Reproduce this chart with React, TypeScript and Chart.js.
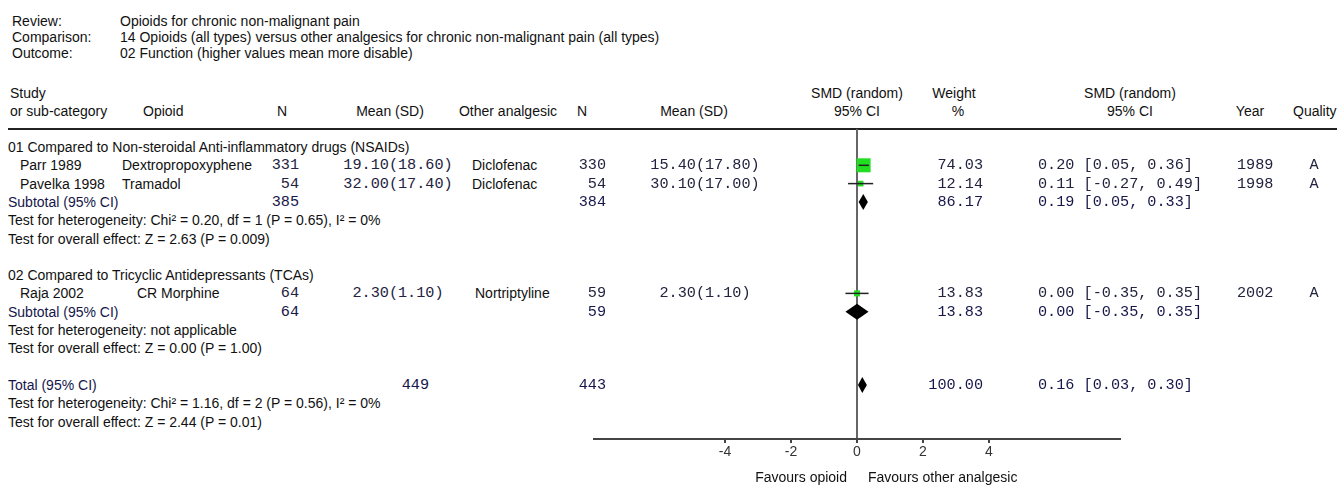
import React, { useEffect, useRef } from "react";
import { Chart, registerables } from "chart.js";

Chart.register(...registerables);

// ---------- data ----------
const META_LABELS = ["Review:", "Comparison:", "Outcome:"];
const META_VALUES = [
  "Opioids for chronic non-malignant pain",
  "14 Opioids (all types) versus other analgesics for chronic non-malignant pain (all types)",
  "02 Function (higher values mean more disable)",
];

const GROUP_TITLES = [
  "01 Compared to Non-steroidal Anti-inflammatory drugs (NSAIDs)",
  "02 Compared to Tricyclic Antidepressants (TCAs)",
];
const GROUP_ROWS = [0, 7];

const STUDIES = ["Parr 1989", "Pavelka 1998", "Raja 2002"];
const STUDY_ROWS = [1, 2, 8];
const OPIOIDS = ["Dextropropoxyphene", "Tramadol", "CR Morphine"];
const N_OPIOID = [331, 54, 64];
const MEAN_OPIOID = ["19.10(18.60)", "32.00(17.40)", "2.30(1.10)"];
const OTHER = ["Diclofenac", "Diclofenac", "Nortriptyline"];
const N_OTHER = [330, 54, 59];
const MEAN_OTHER = ["15.40(17.80)", "30.10(17.00)", "2.30(1.10)"];
const SMD = [0.2, 0.11, 0.0];
const CI_LO = [0.05, -0.27, -0.35];
const CI_HI = [0.36, 0.49, 0.35];
const WEIGHT = [74.03, 12.14, 13.83];
const YEAR = [1989, 1998, 2002];
const QUALITY = ["A", "A", "A"];

const SUB_ROWS = [3, 9];
const SUB_N_OPIOID = [385, 64];
const SUB_N_OTHER = [384, 59];
const SUB_SMD = [0.19, 0.0];
const SUB_LO = [0.05, -0.35];
const SUB_HI = [0.33, 0.35];
const SUB_WEIGHT = [86.17, 13.83];
const SUB_HET = [
  "Test for heterogeneity: Chi² = 0.20, df = 1 (P = 0.65), I² = 0%",
  "Test for heterogeneity: not applicable",
];
const SUB_EFFECT = [
  "Test for overall effect: Z = 2.63 (P = 0.009)",
  "Test for overall effect: Z = 0.00 (P = 1.00)",
];

const TOTAL_ROW = 13;
const TOTAL_N_OPIOID = 449;
const TOTAL_N_OTHER = 443;
const TOTAL_SMD = 0.16;
const TOTAL_LO = 0.03;
const TOTAL_HI = 0.3;
const TOTAL_WEIGHT = 100.0;
const TOTAL_HET = "Test for heterogeneity: Chi² = 1.16, df = 2 (P = 0.56), I² = 0%";
const TOTAL_EFFECT = "Test for overall effect: Z = 2.44 (P = 0.01)";

const AXIS_TICKS = [-4, -2, 0, 2, 4];
const X_MIN = -8;
const X_MAX = 8;
const FAVOURS_LEFT = "Favours opioid";
const FAVOURS_RIGHT = "Favours other analgesic";

// ---------- layout ----------
const ROW0 = 147;
const ROW_H = 18.3;
const rowY = (r: number) => ROW0 + ROW_H * r;

const PLOT_LEFT = 593;
const PLOT_TOP = 129;
const PLOT_W = 528;
const PLOT_H = 356;
const AXIS_H = 46;
const Y_MIN = -(ROW0 - PLOT_TOP) / ROW_H;
const Y_MAX = (PLOT_TOP + PLOT_H - AXIS_H - ROW0) / ROW_H;

const SANS = '"Liberation Sans", Arial, sans-serif';
const MONO = '"Liberation Mono", "Courier New", monospace';
const SANS_SIZE = 14;
const MONO_SIZE = 15.2;
const TEXT_COLOR = "#111";
const MONO_COLOR = "#23233f";
const SUB_COLOR = "#16164a";

type Align = "left" | "right" | "center";

function T(props: {
  x: number;
  y: number;
  text: string | number;
  align?: Align;
  mono?: boolean;
  color?: string;
}) {
  const { x, y, text, align = "left", mono = false, color } = props;
  const tx = align === "right" ? "translateX(-100%)" : align === "center" ? "translateX(-50%)" : "none";
  return (
    <div
      style={{
        position: "absolute",
        left: x,
        top: y - 9,
        height: 18,
        lineHeight: "18px",
        whiteSpace: "nowrap",
        transform: tx,
        fontFamily: mono ? MONO : SANS,
        fontSize: mono ? MONO_SIZE : SANS_SIZE,
        color: color ?? (mono ? MONO_COLOR : TEXT_COLOR),
      }}
    >
      {text}
    </div>
  );
}

const fmtCI = (e: number, lo: number, hi: number) =>
  `${e.toFixed(2)} [${lo.toFixed(2)}, ${hi.toFixed(2)}]`;

export default function App() {
  const canvasRef = useRef<HTMLCanvasElement | null>(null);

  useEffect(() => {
    const canvas = canvasRef.current;
    if (!canvas) return;

    const diamonds = [
      ...SUB_ROWS.map((r, i) => ({ row: r, est: SUB_SMD[i], lo: SUB_LO[i], hi: SUB_HI[i] })),
      { row: TOTAL_ROW, est: TOTAL_SMD, lo: TOTAL_LO, hi: TOTAL_HI },
    ];

    const diamondPlugin = {
      id: "diamonds",
      afterDatasetsDraw(chart: any) {
        const { ctx, scales } = chart;
        const x = scales.x;
        const y = scales.y;
        ctx.save();
        ctx.fillStyle = "#000";
        diamonds.forEach((d) => {
          const yc = y.getPixelForValue(d.row);
          ctx.beginPath();
          ctx.moveTo(x.getPixelForValue(d.lo), yc);
          ctx.lineTo(x.getPixelForValue(d.est), yc - 8);
          ctx.lineTo(x.getPixelForValue(d.hi), yc);
          ctx.lineTo(x.getPixelForValue(d.est), yc + 8);
          ctx.closePath();
          ctx.fill();
        });
        ctx.restore();
      },
    };

    const ciDatasets = STUDIES.map((s, i) => ({
      label: s + " CI",
      data: [
        { x: CI_LO[i], y: STUDY_ROWS[i] },
        { x: CI_HI[i], y: STUDY_ROWS[i] },
      ],
      showLine: true,
      borderColor: "#222",
      borderWidth: 1.5,
      pointRadius: 0,
      order: 0,
    }));

    const squares = {
      label: "Studies",
      data: STUDIES.map((_, i) => ({ x: SMD[i], y: STUDY_ROWS[i] })),
      pointStyle: "rect",
      pointRadius: WEIGHT.map((w) => (1.63 * Math.sqrt(w)) / Math.SQRT2),
      backgroundColor: "#22dd22",
      borderColor: "#22dd22",
      borderWidth: 0,
      order: 1,
    };

    const chart = new Chart(canvas, {
      type: "scatter",
      data: { datasets: [...ciDatasets, squares] as any },
      options: {
        animation: false,
        responsive: false,
        events: [],
        layout: { padding: 0, autoPadding: false },
        plugins: { legend: { display: false }, tooltip: { enabled: false } },
        scales: {
          x: {
            type: "linear",
            min: X_MIN,
            max: X_MAX,
            afterBuildTicks: (axis: any) => {
              axis.ticks = AXIS_TICKS.map((v) => ({ value: v }));
            },
            afterFit: (scale: any) => {
              scale.height = AXIS_H;
            },
            grid: {
              color: (c: any) => (c.tick && c.tick.value === 0 ? "#666" : "rgba(0,0,0,0)"),
              lineWidth: 2,
              tickColor: "#444",
              tickLength: 4,
              drawOnChartArea: true,
            },
            border: { display: true, color: "#444", width: 2 },
            ticks: {
              padding: 1,
              color: "#333",
              font: { family: SANS, size: 14 },
              callback: (v: any) => String(v),
              maxRotation: 0,
            },
          },
          y: {
            type: "linear",
            display: false,
            reverse: true,
            min: Y_MIN,
            max: Y_MAX,
          },
        },
      },
      plugins: [diamondPlugin],
    });

    return () => chart.destroy();
  }, []);

  const texts: React.ReactNode[] = [];
  let k = 0;
  const add = (p: Parameters<typeof T>[0]) => texts.push(<T key={k++} {...p} />);

  // meta
  META_LABELS.forEach((l, i) => {
    add({ x: 12, y: 21 + 16 * i, text: l });
    add({ x: 120, y: 21 + 16 * i, text: META_VALUES[i] });
  });

  // headers
  const H1 = 93;
  const H2 = 111;
  add({ x: 10, y: H1, text: "Study" });
  add({ x: 10, y: H2, text: "or sub-category" });
  add({ x: 143, y: H2, text: "Opioid" });
  add({ x: 282, y: H2, text: "N", align: "center" });
  add({ x: 390, y: H2, text: "Mean (SD)", align: "center" });
  add({ x: 508, y: H2, text: "Other analgesic", align: "center" });
  add({ x: 582, y: H2, text: "N", align: "center" });
  add({ x: 694, y: H2, text: "Mean (SD)", align: "center" });
  add({ x: 857, y: H1, text: "SMD (random)", align: "center" });
  add({ x: 857, y: H2, text: "95% CI", align: "center" });
  add({ x: 954, y: H1, text: "Weight", align: "center" });
  add({ x: 958, y: H2, text: "%", align: "center" });
  add({ x: 1130, y: H1, text: "SMD (random)", align: "center" });
  add({ x: 1130, y: H2, text: "95% CI", align: "center" });
  add({ x: 1250, y: H2, text: "Year", align: "center" });
  add({ x: 1293, y: H2, text: "Quality" });

  // groups
  GROUP_TITLES.forEach((g, gi) => {
    add({ x: 8, y: rowY(GROUP_ROWS[gi]), text: g });
    const sr = SUB_ROWS[gi];
    add({ x: 8, y: rowY(sr), text: "Subtotal (95% CI)", color: SUB_COLOR });
    add({ x: 299, y: rowY(sr), text: SUB_N_OPIOID[gi], mono: true, align: "right", color: SUB_COLOR });
    add({ x: 606, y: rowY(sr), text: SUB_N_OTHER[gi], mono: true, align: "right", color: SUB_COLOR });
    add({ x: 983, y: rowY(sr), text: SUB_WEIGHT[gi].toFixed(2), mono: true, align: "right", color: SUB_COLOR });
    add({ x: 1038, y: rowY(sr), text: fmtCI(SUB_SMD[gi], SUB_LO[gi], SUB_HI[gi]), mono: true, color: SUB_COLOR });
    add({ x: 8, y: rowY(sr + 1), text: SUB_HET[gi] });
    add({ x: 8, y: rowY(sr + 2), text: SUB_EFFECT[gi] });
  });

  // studies
  STUDIES.forEach((s, i) => {
    const y = rowY(STUDY_ROWS[i]);
    add({ x: 20, y, text: s });
    add({ x: i === 2 ? 137 : 122, y, text: OPIOIDS[i] });
    add({ x: 299, y, text: N_OPIOID[i], mono: true, align: "right" });
    add({ x: 398, y, text: MEAN_OPIOID[i], mono: true, align: "center" });
    add({ x: i === 2 ? 475 : 472, y, text: OTHER[i] });
    add({ x: 606, y, text: N_OTHER[i], mono: true, align: "right" });
    add({ x: 705, y, text: MEAN_OTHER[i], mono: true, align: "center" });
    add({ x: 983, y, text: WEIGHT[i].toFixed(2), mono: true, align: "right" });
    add({ x: 1038, y, text: fmtCI(SMD[i], CI_LO[i], CI_HI[i]), mono: true });
    add({ x: 1237, y, text: YEAR[i], mono: true });
    add({ x: 1314, y, text: QUALITY[i], mono: true, align: "center" });
  });

  // total
  const ty = rowY(TOTAL_ROW);
  add({ x: 8, y: ty, text: "Total (95% CI)", color: SUB_COLOR });
  add({ x: 429, y: ty, text: TOTAL_N_OPIOID, mono: true, align: "right", color: SUB_COLOR });
  add({ x: 606, y: ty, text: TOTAL_N_OTHER, mono: true, align: "right", color: SUB_COLOR });
  add({ x: 983, y: ty, text: TOTAL_WEIGHT.toFixed(2), mono: true, align: "right", color: SUB_COLOR });
  add({ x: 1038, y: ty, text: fmtCI(TOTAL_SMD, TOTAL_LO, TOTAL_HI), mono: true, color: SUB_COLOR });
  add({ x: 8, y: rowY(TOTAL_ROW + 1), text: TOTAL_HET });
  add({ x: 8, y: rowY(TOTAL_ROW + 2), text: TOTAL_EFFECT });

  // favours
  add({ x: 847, y: 477, text: FAVOURS_LEFT, align: "right" });
  add({ x: 868, y: 477, text: FAVOURS_RIGHT });

  return (
    <div
      style={{
        position: "absolute",
        left: 0,
        top: 0,
        width: 1337,
        height: 485,
        background: "#fff",
        overflow: "hidden",
      }}
    >
      <div
        style={{
          position: "absolute",
          left: 8,
          top: PLOT_TOP - 1,
          width: 1329,
          height: 2,
          background: "#222",
        }}
      />
      <canvas
        ref={canvasRef}
        width={PLOT_W}
        height={PLOT_H}
        style={{ position: "absolute", left: PLOT_LEFT, top: PLOT_TOP, width: PLOT_W, height: PLOT_H }}
      />
      {texts}
    </div>
  );
}
